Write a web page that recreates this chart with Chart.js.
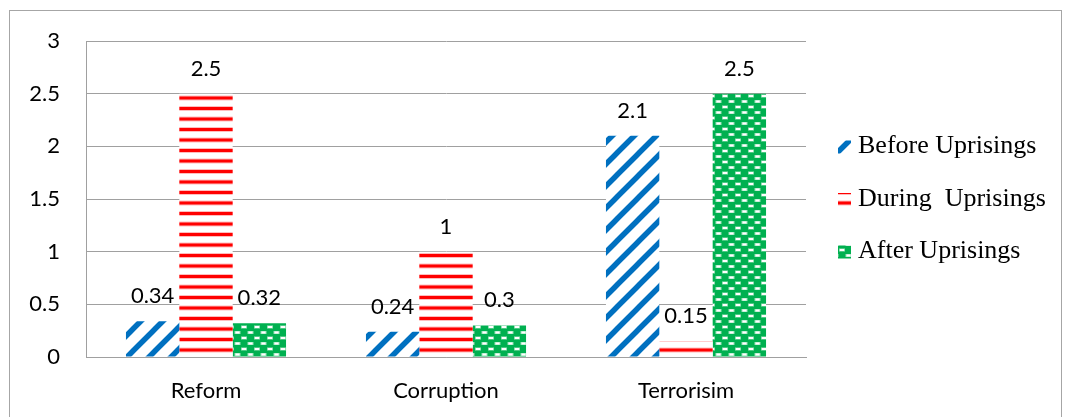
<!DOCTYPE html>
<html>
<head>
<meta charset="utf-8">
<script src="https://cdn.jsdelivr.net/npm/chart.js@4"></script>
<style>
  html, body { margin: 0; padding: 0; background: #fff; }
  #frame { position: absolute; left: 9px; top: 10px; width: 1051px; height: 500px; border: 1px solid #a6a6a6; }
  #chart { position: absolute; left: 0; top: 0; }
</style>
</head>
<body>
<div id="frame"></div>
<canvas id="chart" width="1069" height="417"></canvas>
<script>
// data
const categories = ['Reform', 'Corruption', 'Terrorisim'];
const seriesNames = ['Before Uprisings', 'During  Uprisings', 'After Uprisings'];
const beforeVals = [0.34, 0.24, 2.1];
const duringVals = [2.5, 1, 0.15];
const afterVals = [0.32, 0.3, 2.5];
const yMax = 3;
const yStep = 0.5;

// fill patterns
function makePattern(w, h, draw) {
  const c = document.createElement('canvas');
  c.width = w; c.height = h;
  const g = c.getContext('2d');
  draw(g, w, h);
  return g.createPattern(c, 'repeat');
}

const bluePat = makePattern(22, 22, (g, w, h) => {
  g.fillStyle = '#fff';
  g.fillRect(0, 0, w, h);
  g.strokeStyle = '#0070c0';
  g.lineWidth = 5.5;
  g.beginPath();
  g.moveTo(-w, 2 * h); g.lineTo(2 * w, -h);
  g.moveTo(-w, h); g.lineTo(w, -h);
  g.moveTo(0, 2 * h); g.lineTo(2 * w, 0);
  g.stroke();
});

const redPat = makePattern(8, 21, (g, w, h) => {
  g.fillStyle = '#fff';
  g.fillRect(0, 0, w, h);
  g.fillStyle = '#ffbdbd';
  g.fillRect(0, 1, w, 5);
  g.fillRect(0, 11.5, w, 5);
  g.fillStyle = '#ff0000';
  g.fillRect(0, 2, w, 3);
  g.fillRect(0, 12.5, w, 3);
});

const greenPat = makePattern(13, 11, (g, w, h) => {
  g.fillStyle = '#00b050';
  g.fillRect(0, 0, w, h);
  g.fillStyle = 'rgba(255,255,255,0.6)';
  g.fillRect(0.5, 1, 6, 3);
  g.fillRect(7, 6.5, 6, 3);
  g.fillStyle = '#fff';
  g.fillRect(1.5, 1.5, 4, 2);
  g.fillRect(8, 7, 4, 2);
});

const valueLabels = {
  id: 'valueLabels',
  afterDatasetsDraw(chart) {
    const ctx = chart.ctx;
    ctx.save();
    ctx.font = '22px Lato';
    ctx.fillStyle = '#000';
    ctx.textAlign = 'center';
    ctx.textBaseline = 'bottom';
    chart.data.datasets.forEach((ds, i) => {
      chart.getDatasetMeta(i).data.forEach((bar, j) => {
        ctx.fillText(String(ds.data[j]), bar.x, bar.y - 14);
      });
    });
    ctx.restore();
  }
};

const sideLegend = {
  id: 'sideLegend',
  afterDraw(chart) {
    const ctx = chart.ctx;
    const area = chart.chartArea;
    const mid = (area.top + area.bottom) / 2;
    const step = 52.5;
    ctx.save();
    ctx.font = '26px "Liberation Serif"';
    ctx.textBaseline = 'middle';
    chart.data.datasets.forEach((ds, i) => {
      const y = mid + (i - 1) * step;
      ctx.fillStyle = ds.backgroundColor;
      ctx.fillRect(838, y - 6, 13, 13);
      ctx.fillStyle = '#000';
      ctx.fillText(ds.label, 858, y);
    });
    ctx.restore();
  }
};

new Chart(document.getElementById('chart'), {
  type: 'bar',
  data: {
    labels: categories,
    datasets: [
      { label: seriesNames[0], data: beforeVals, backgroundColor: bluePat },
      { label: seriesNames[1], data: duringVals, backgroundColor: redPat },
      { label: seriesNames[2], data: afterVals, backgroundColor: greenPat }
    ]
  },
  options: {
    responsive: false,
    animation: false,
    devicePixelRatio: 1,
    layout: { padding: { top: 41, right: 263, left: 0, bottom: 0 } },
    datasets: { bar: { categoryPercentage: 0.667, barPercentage: 1 } },
    plugins: { legend: { display: false }, tooltip: { enabled: false } },
    scales: {
      x: {
        grid: { display: false },
        border: { display: true, color: '#a0a0a0' },
        ticks: { color: '#000', font: { family: 'Lato', size: 22 }, padding: 13 },
        afterFit(scale) { scale.height = 60; }
      },
      y: {
        min: 0, max: yMax,
        grid: { color: '#a0a0a0', drawTicks: false },
        border: { display: true, color: '#a0a0a0' },
        ticks: {
          stepSize: yStep, color: '#000', font: { family: 'Lato', size: 22 }, padding: 26,
          callback: v => String(v)
        },
        afterFit(scale) { scale.width = 86; }
      }
    }
  },
  plugins: [valueLabels, sideLegend]
});
</script>
</body>
</html>
